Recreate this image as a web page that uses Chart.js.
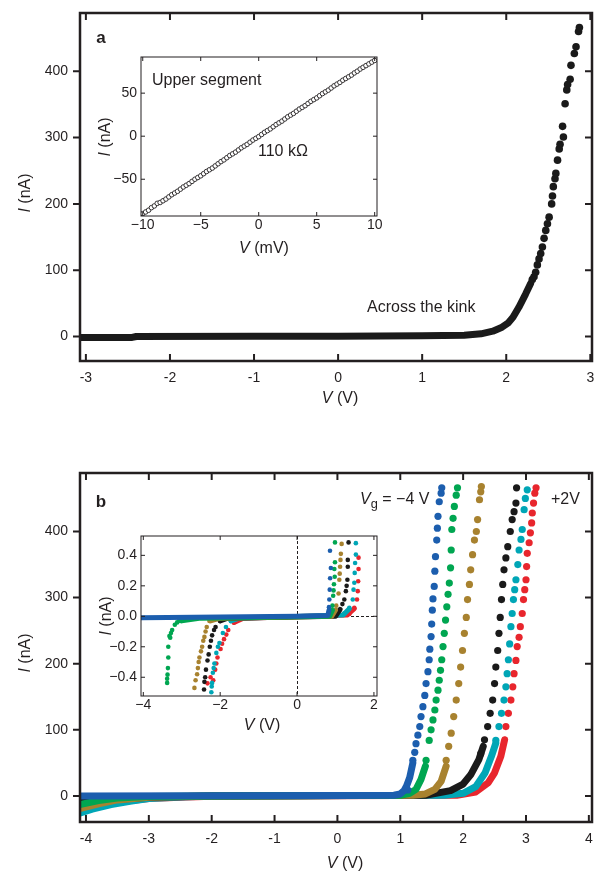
<!DOCTYPE html>
<html><head><meta charset="utf-8">
<script src="https://cdn.jsdelivr.net/npm/chart.js@4"></script>
<style>
body{margin:0;background:#fff;width:596px;height:872px;position:relative;overflow:hidden;font-family:"Liberation Sans",Arial,sans-serif;color:#231f20}
canvas{position:absolute}
.t{position:absolute;white-space:nowrap;transform:translate(-50%,-50%);font-size:16px;line-height:1}
.l{position:absolute;white-space:nowrap;transform:translateY(-50%);line-height:1}
.rot{transform:translate(-50%,-50%) rotate(-90deg)}
sub{font-size:0.8em;vertical-align:-0.35em;line-height:0}
</style></head><body>
<canvas id="ca" width="596" height="420" style="left:0;top:0"></canvas>
<canvas id="cai" width="300" height="190" style="left:90px;top:50px"></canvas>
<canvas id="cb" width="596" height="412" style="left:0;top:460px"></canvas>
<canvas id="cbi" width="300" height="190" style="left:90px;top:530px"></canvas>

<div class="t" style="left:101px;top:37px;font-weight:bold;font-size:17px">a</div>
<div class="l" style="left:152px;top:80px;font-size:16px">Upper segment</div>
<div class="l" style="left:258px;top:151px;font-size:16px">110 kΩ</div>
<div class="l" style="left:367px;top:307px;font-size:16px">Across the kink</div>
<div class="t rot" style="left:25px;top:193px"><i>I</i> (nA)</div>
<div class="t" style="left:340px;top:398px"><i>V</i> (V)</div>
<div class="t rot" style="left:105px;top:137px"><i>I</i> (nA)</div>
<div class="t" style="left:264px;top:248px"><i>V</i> (mV)</div>

<div class="t" style="left:101px;top:501px;font-weight:bold;font-size:17px">b</div>
<div class="l" style="left:360px;top:499px;font-size:16px"><i>V</i><sub>g</sub> = −4 V</div>
<div class="l" style="left:551px;top:499px;font-size:16px">+2V</div>
<div class="t rot" style="left:25px;top:653px"><i>I</i> (nA)</div>
<div class="t" style="left:345px;top:863px"><i>V</i> (V)</div>
<div class="t rot" style="left:106px;top:616px"><i>I</i> (nA)</div>
<div class="t" style="left:262px;top:725px"><i>V</i> (V)</div>

<script>
// ---------- tick values / labels ----------
const aXTicks = [-3,-2,-1,0,1,2,3];
const aXLabels = ['-3','-2','-1','0','1','2','3'];
const aYTicks = [0,100,200,300,400];
const aYLabels = ['0','100','200','300','400'];
const aiXTicks = [-10,-5,0,5,10];
const aiXLabels = ['−10','−5','0','5','10'];
const aiYTicks = [-50,0,50];
const aiYLabels = ['−50','0','50'];
const bXTicks = [-4,-3,-2,-1,0,1,2,3,4];
const bXLabels = ['-4','-3','-2','-1','0','1','2','3','4'];
const bYTicks = [0,100,200,300,400];
const bYLabels = ['0','100','200','300','400'];
const biXTicks = [-4,-2,0,2];
const biXLabels = ['−4','−2','0','2'];
const biYTicks = [-0.4,-0.2,0,0.2,0.4];
const biYLabels = ['−0.4','−0.2','0.0','0.2','0.4'];

// ---------- panel a: main (V in V, I in nA) ----------
const aBand = [[-3.05,-1.5],[-2.45,-1.5],[-2.4,0],[-1,0.3],[0,0.5],[1,1],[1.5,2],[1.7,4],[1.84,8],[1.95,14],[2.02,20],[2.08,29],[2.15,44],[2.23,64],[2.29,80]];
const aDots = [[2.31,86],[2.33,90],[2.35,97],[2.37,108],[2.39,117],[2.41,125],[2.43,135],[2.45,148],[2.47,160],[2.49,170],[2.51,180],[2.54,200],[2.55,212],[2.56,226],[2.58,238],[2.59,246],[2.61,266],[2.63,283],[2.64,290],[2.68,301],[2.67,317],[2.70,351],[2.72,372],[2.73,380],[2.76,388],[2.77,409],[2.81,427],[2.83,437],[2.86,460],[2.87,466]];

// ---------- panel a inset: upper segment (V in mV, I in nA) ----------
const aiV = [-10,-9.75,-9.5,-9.25,-9,-8.75,-8.5,-8.25,-8,-7.75,-7.5,-7.25,-7,-6.75,-6.5,-6.25,-6,-5.75,-5.5,-5.25,-5,-4.75,-4.5,-4.25,-4,-3.75,-3.5,-3.25,-3,-2.75,-2.5,-2.25,-2,-1.75,-1.5,-1.25,-1,-0.75,-0.5,-0.25,0,0.25,0.5,0.75,1,1.25,1.5,1.75,2,2.25,2.5,2.75,3,3.25,3.5,3.75,4,4.25,4.5,4.75,5,5.25,5.5,5.75,6,6.25,6.5,6.75,7,7.25,7.5,7.75,8,8.25,8.5,8.75,9,9.25,9.5,9.75,10];
const aiI = [-90,-88,-86,-83,-81,-78,-77,-75,-73,-70.5,-68,-66,-64,-61.5,-59,-57,-55,-52.5,-50,-48,-46,-43.5,-41,-39,-37,-34.5,-32,-29.5,-27.5,-25,-22.5,-20.5,-18.5,-16,-13.5,-11.5,-9.5,-7,-4.5,-2.5,-0.5,2,4.5,6.5,8.5,11,13.5,15.5,17.5,20,22.5,24.5,26.5,29,31.5,33.5,35.5,38,40.5,42.5,44.5,47,49.5,51.5,53.5,56,58.5,60.5,62.5,65,67,69,71,73.5,75.5,78,80,82,84,86,88];

// ---------- panel b: main, gate voltage series ----------
const bBlueBand  = [[-4.1,0],[0,0.5],[0.9,1],[1.0,3],[1.06,8],[1.1,15],[1.15,28],[1.2,50]];
const bGreenBand = [[-4.1,-13],[-3.8,-7],[-3.5,-3],[-3,-1],[-2,0],[1,1],[1.15,4],[1.25,10],[1.33,25],[1.4,45]];
const bBrownBand = [[-4.1,-19],[-3.8,-12],[-3.5,-6],[-3,-2],[-2.5,-1],[-2,0],[1.2,1],[1.4,3],[1.55,10],[1.65,22],[1.73,45]];
const bBlackBand = [[-4.1,-9],[-3.5,-5],[-3,-2],[-2,0],[1.4,1],[1.8,8],[2.0,18],[2.12,32],[2.25,55],[2.32,75]];
const bCyanBand  = [[-4.1,-26],[-3.9,-20],[-3.6,-13],[-3.3,-8],[-3,-4],[-2.5,-1.5],[-2,0],[1.7,1],[2.0,4],[2.2,14],[2.35,35],[2.45,60],[2.52,80]];
const bRedBand   = [[-4.1,-20],[-3.5,-9],[-3,-4],[-2.5,-2],[-2,-0.5],[1.9,1],[2.2,6],[2.4,20],[2.5,35],[2.6,60],[2.66,85]];

const bBlueDots  = [[1.12,9],[1.2,54],[1.23,66],[1.25,79],[1.28,92],[1.31,105],[1.33,120],[1.36,135],[1.39,152],[1.41,170],[1.44,188],[1.46,206],[1.47,222],[1.49,241],[1.5,260],[1.51,281],[1.52,298],[1.54,317],[1.55,340],[1.56,362],[1.58,387],[1.59,405],[1.6,423],[1.62,445],[1.65,458],[1.66,466]];
const bGreenDots = [[1.41,54],[1.46,84],[1.49,100],[1.52,115],[1.55,130],[1.57,145],[1.6,160],[1.62,175],[1.64,190],[1.66,206],[1.68,226],[1.7,246],[1.72,266],[1.74,286],[1.76,305],[1.78,322],[1.8,345],[1.81,372],[1.82,403],[1.84,420],[1.86,438],[1.89,455],[1.91,466]];
const bBrownDots = [[1.73,54],[1.77,75],[1.81,95],[1.85,120],[1.89,145],[1.93,170],[1.96,195],[1.99,220],[2.02,246],[2.05,270],[2.07,297],[2.1,320],[2.12,342],[2.15,365],[2.18,387],[2.21,400],[2.23,418],[2.26,448],[2.28,460],[2.29,468]];
const bBlackDots = [[2.28,64],[2.34,85],[2.39,105],[2.43,125],[2.47,145],[2.5,170],[2.52,195],[2.55,220],[2.57,246],[2.59,270],[2.61,297],[2.63,320],[2.65,342],[2.68,360],[2.71,377],[2.75,400],[2.78,418],[2.81,430],[2.84,443],[2.85,466]];
const bCyanDots  = [[2.52,84],[2.57,105],[2.61,125],[2.65,145],[2.68,165],[2.7,185],[2.72,206],[2.74,230],[2.76,256],[2.78,276],[2.8,297],[2.82,312],[2.84,327],[2.87,350],[2.89,372],[2.92,388],[2.94,403],[2.97,433],[2.99,450],[3.02,463]];
const bRedDots   = [[2.68,105],[2.72,125],[2.76,145],[2.79,165],[2.81,185],[2.84,205],[2.86,226],[2.89,240],[2.91,256],[2.94,276],[2.96,297],[2.98,312],[3.0,327],[3.01,347],[3.02,367],[3.05,383],[3.07,398],[3.09,413],[3.1,428],[3.12,443],[3.14,458],[3.16,466]];

// ---------- panel b inset (V in V, I in nA) ----------
const biBlueBand  = [[-4.1,-0.01],[-2,-0.005],[0,0],[0.8,0.005],[0.83,0.04]];
const biGreenBand = [[-3.0,-0.03],[-2.5,-0.012],[0.85,0],[0.92,0.04]];
const biBrownBand = [[-2.25,-0.03],[-2,-0.012],[0.9,0],[1.0,0.04]];
const biBlackBand = [[-2.0,-0.03],[-1.8,-0.012],[1.0,0],[1.12,0.045]];
const biCyanBand  = [[-1.72,-0.03],[-1.5,-0.012],[1.2,0.008],[1.36,0.05]];
const biRedBand   = [[-1.64,-0.04],[-1.4,-0.012],[1.3,0.008],[1.49,0.05]];

const biBlueDots  = [[0.83,0.06],[0.84,0.11],[0.85,0.175],[0.86,0.25],[0.88,0.317],[0.857,0.43]];
const biGreenDots = [[-3.38,-0.437],[-3.38,-0.41],[-3.37,-0.383],[-3.36,-0.34],[-3.35,-0.27],[-3.35,-0.2],[-3.32,-0.13],[-3.3,-0.14],[-3.28,-0.11],[-3.25,-0.09],[-3.18,-0.055],[-3.12,-0.04],[-3.07,-0.03],[-2.9,-0.015],[0.92,0.07],[0.94,0.135],[0.95,0.17],[0.96,0.21],[0.98,0.26],[0.97,0.31],[0.987,0.355],[0.987,0.485]];
const biBrownDots = [[-2.67,-0.47],[-2.64,-0.42],[-2.6,-0.38],[-2.58,-0.34],[-2.56,-0.3],[-2.54,-0.27],[-2.5,-0.23],[-2.47,-0.2],[-2.44,-0.16],[-2.41,-0.135],[-2.38,-0.1],[-2.35,-0.07],[-2.28,-0.03],[0.94,0.02],[1.02,0.07],[1.08,0.15],[1.1,0.24],[1.11,0.28],[1.12,0.325],[1.13,0.37],[1.14,0.41],[1.16,0.475]];
const biBlackDots = [[-2.42,-0.48],[-2.41,-0.43],[-2.39,-0.4],[-2.37,-0.35],[-2.33,-0.29],[-2.3,-0.25],[-2.27,-0.2],[-2.24,-0.16],[-2.21,-0.125],[-2.16,-0.09],[-2.12,-0.07],[-2.0,-0.03],[1.1,0.04],[1.18,0.08],[1.23,0.11],[1.27,0.165],[1.29,0.2],[1.31,0.24],[1.32,0.325],[1.32,0.37],[1.34,0.485]];
const biCyanDots  = [[-2.23,-0.498],[-2.22,-0.46],[-2.21,-0.437],[-2.19,-0.37],[-2.17,-0.34],[-2.15,-0.31],[-2.1,-0.24],[-2.06,-0.2],[-2.02,-0.175],[-1.93,-0.11],[-1.85,-0.07],[-1.72,-0.03],[1.23,0.02],[1.36,0.055],[1.45,0.11],[1.47,0.175],[1.49,0.22],[1.5,0.285],[1.51,0.35],[1.53,0.405],[1.53,0.48]];
const biRedDots   = [[-2.33,-0.44],[-2.25,-0.4],[-2.18,-0.42],[-2.13,-0.35],[-2.1,-0.31],[-2.07,-0.27],[-1.99,-0.215],[-1.95,-0.18],[-1.9,-0.15],[-1.84,-0.12],[-1.79,-0.09],[-1.64,-0.04],[1.36,0.015],[1.49,0.055],[1.56,0.11],[1.58,0.165],[1.59,0.23],[1.6,0.31],[1.6,0.385]];

// ---------- styling ----------
const FONT = '"Liberation Sans", Arial, sans-serif';
const INK = '#231f20';
const COL = {blue:'#1c5eae', green:'#00a651', brown:'#a8822f', black:'#1a1a1a', cyan:'#00a6b6', red:'#e8262d'};

const pts = arr => arr.map(p => ({x:p[0], y:p[1]}));

function axis(min, max, ticks, labels, pad, size, isX){
  return {
    type:'linear', min, max,
    grid:{display:false, drawTicks:false},
    border:{display:false},
    afterBuildTicks: s => { s.ticks = ticks.map(v => ({value:v})); },
    afterFit: s => {
      if (isX) s.height = size; else s.width = size;
      s.paddingLeft = 0; s.paddingRight = 0; s.paddingTop = 0; s.paddingBottom = 0;
    },
    ticks:{autoSkip:false, maxRotation:0, minRotation:0, padding:pad, color:INK,
      font:{family:FONT, size:14}, callback:(v,i) => labels[i]}
  };
}

const framePlugin = {
  id:'frame',
  beforeDatasetsDraw(chart, args, o){
    if (!o.dash) return;
    const {ctx, chartArea:a, scales:{x,y}} = chart;
    ctx.save(); ctx.strokeStyle = INK; ctx.lineWidth = 1; ctx.setLineDash([3,2]);
    ctx.beginPath();
    const px = Math.round(x.getPixelForValue(0)) + 0.5, py = Math.round(y.getPixelForValue(0)) + 0.5;
    ctx.moveTo(px, a.top); ctx.lineTo(px, a.bottom);
    ctx.moveTo(a.left, py); ctx.lineTo(a.right, py);
    ctx.stroke(); ctx.restore();
  },
  afterDatasetsDraw(chart, args, o){
    const {ctx, chartArea:a, scales:{x,y}} = chart;
    ctx.save(); ctx.strokeStyle = INK; ctx.lineWidth = o.lw;
    ctx.strokeRect(a.left, a.top, a.right - a.left, a.bottom - a.top);
    ctx.lineWidth = o.tw; ctx.beginPath();
    for (const v of o.xt){
      const px = x.getPixelForValue(v);
      ctx.moveTo(px, a.bottom); ctx.lineTo(px, a.bottom - o.tl);
      ctx.moveTo(px, a.top); ctx.lineTo(px, a.top + o.tl);
    }
    for (const v of o.yt){
      const py = y.getPixelForValue(v);
      ctx.moveTo(a.left, py); ctx.lineTo(o.leftOut ? a.left - o.tl : a.left + o.tl, py);
      ctx.moveTo(a.right, py); ctx.lineTo(a.right - o.tl, py);
    }
    ctx.stroke(); ctx.restore();
  }
};

function band(data, color, w, order){
  return {data:pts(data), showLine:true, borderColor:color, backgroundColor:color, borderWidth:w,
    borderCapStyle:'round', borderJoinStyle:'round', pointRadius:0, tension:0, order};
}
function dots(data, color, r, order){
  return {data:pts(data), showLine:false, backgroundColor:color, borderWidth:0, pointRadius:r, order};
}

function make(id, datasets, xs, ys, padding, frame){
  return new Chart(document.getElementById(id), {
    type:'scatter',
    data:{datasets},
    options:{
      responsive:false, animation:false, devicePixelRatio:1,
      layout:{padding},
      events:[],
      plugins:{legend:{display:false}, tooltip:{enabled:false}, frame},
      scales:{x:xs, y:ys}
    },
    plugins:[framePlugin]
  });
}

// Panel a main
make('ca',
  [band(aBand, '#1a1a1a', 7, 1), dots(aDots, '#1a1a1a', 3.8, 0)],
  axis(-3.07, 3.02, aXTicks, aXLabels, 9, 59, true),
  axis(-37, 488, aYTicks, aYLabels, 12, 80, false),
  {top:13, right:3, left:0, bottom:0},
  {lw:2.5, tw:2, tl:7, leftOut:true, xt:aXTicks, yt:aYTicks});

// Panel a inset
make('cai',
  [{data:aiV.map((v,i) => ({x:v, y:aiI[i]})), showLine:false, backgroundColor:'#ffffff',
    borderColor:'#231f20', borderWidth:0.9, pointRadius:2.3}],
  axis(-10.15, 10.2, aiXTicks, aiXLabels, 1, 24, true),
  axis(-92.7, 92, aiYTicks, aiYLabels, 4, 51, false),
  {top:7, right:13, left:0, bottom:0},
  {lw:1, tw:1, tl:4, leftOut:false, xt:aiXTicks, yt:aiYTicks});

// Panel b main
make('cb',
  [
    band(bBlueBand, COL.blue, 7, 0), dots(bBlueDots, COL.blue, 3.6, 0),
    band(bGreenBand, COL.green, 7, 1), dots(bGreenDots, COL.green, 3.6, 1),
    band(bBrownBand, COL.brown, 7, 2), dots(bBrownDots, COL.brown, 3.6, 2),
    band(bBlackBand, COL.black, 7, 3), dots(bBlackDots, COL.black, 3.6, 3),
    band(bCyanBand, COL.cyan, 7, 4), dots(bCyanDots, COL.cyan, 3.6, 4),
    band(bRedBand, COL.red, 7, 5), dots(bRedDots, COL.red, 3.6, 5)
  ],
  axis(-4.095, 4.05, bXTicks, bXLabels, 9, 50, true),
  axis(-39.4, 488.5, bYTicks, bYLabels, 12, 80, false),
  {top:13, right:3, left:0, bottom:0},
  {lw:2.5, tw:2, tl:7, leftOut:true, xt:bXTicks, yt:bYTicks});

// Panel b inset
make('cbi',
  [
    band(biBlueBand, COL.blue, 5, 0), dots(biBlueDots, COL.blue, 2.3, 0),
    band(biGreenBand, COL.green, 5, 1), dots(biGreenDots, COL.green, 2.3, 1),
    band(biBrownBand, COL.brown, 5, 2), dots(biBrownDots, COL.brown, 2.3, 2),
    band(biBlackBand, COL.black, 5, 3), dots(biBlackDots, COL.black, 2.3, 3),
    band(biCyanBand, COL.cyan, 5, 4), dots(biCyanDots, COL.cyan, 2.3, 4),
    band(biRedBand, COL.red, 5, 5), dots(biRedDots, COL.red, 2.3, 5)
  ],
  axis(-4.06, 2.08, biXTicks, biXLabels, 1, 24, true),
  axis(-0.523, 0.527, biYTicks, biYLabels, 4, 51, false),
  {top:6, right:13, left:0, bottom:0},
  {lw:1, tw:1, tl:4, leftOut:false, xt:biXTicks, yt:biYTicks, dash:true});
</script>
</body></html>
